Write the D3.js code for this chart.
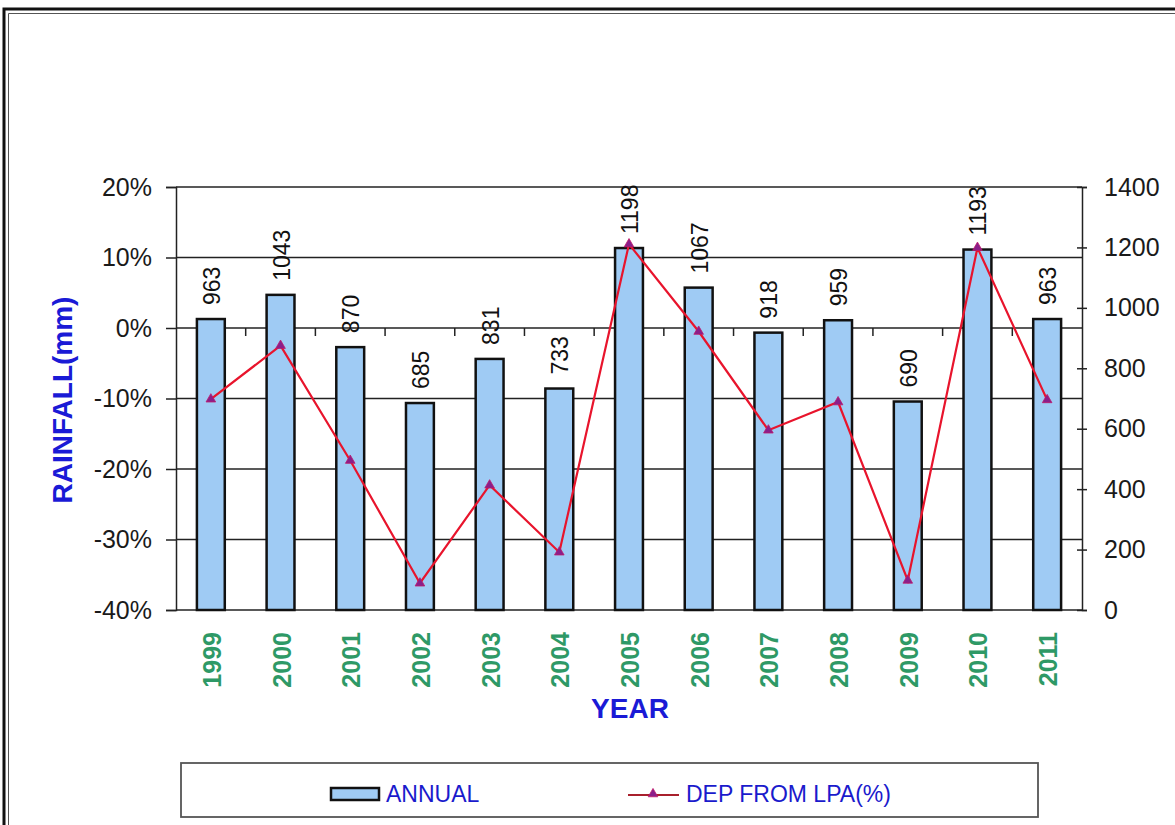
<!DOCTYPE html>
<html>
<head>
<meta charset="utf-8">
<script src="https://cdn.jsdelivr.net/npm/d3@7"></script>
<style>
  html, body { margin: 0; padding: 0; background: #fff; }
  svg { display: block; }
  text { font-family: "Liberation Sans", Arial, sans-serif; }
</style>
</head>
<body>
<svg id="chart" width="1175" height="825"></svg>
<script>
// ---- data ----
const years = ["1999","2000","2001","2002","2003","2004","2005","2006","2007","2008","2009","2010","2011"];
const annual = [963, 1043, 870, 685, 831, 733, 1198, 1067, 918, 959, 690, 1193, 963];
const depFromLPA = [-10.1, -2.5, -18.8, -36.2, -22.3, -31.8, 11.9, -0.5, -14.5, -10.5, -35.8, 11.4, -10.2];
const leftTicks = [-40, -30, -20, -10, 0, 10, 20];
const rightTicks = [0, 200, 400, 600, 800, 1000, 1200, 1400];
const seriesNames = ["ANNUAL", "DEP FROM LPA(%)"];
const axisTitles = { x: "YEAR", y: "RAINFALL(mm)" };

// ---- layout ----
const svg = d3.select("#chart");
const L = 176, R = 1082, T = 187, B = 610;

const x = d3.scaleBand().domain(years).range([L, R]).paddingInner(0.6).paddingOuter(0.3);
const xb = d3.scaleBand().domain(years).range([L, R]); // band boundaries for ticks
const yL = d3.scaleLinear().domain([-40, 20]).range([B, T]);
const yR = d3.scaleLinear().domain([0, 1400]).range([B, T]);

// outer frame (double line, top & left visible)
svg.append("path").attr("d", "M4,900 L4,9 L1300,9").attr("fill", "none").attr("stroke", "#111").attr("stroke-width", 3);
svg.append("path").attr("d", "M8.5,900 L8.5,13.5 L1300,13.5").attr("fill", "none").attr("stroke", "#555").attr("stroke-width", 1);

// gridlines (left axis)
svg.append("g").selectAll("line").data(leftTicks).join("line")
  .attr("x1", L).attr("x2", R)
  .attr("y1", d => yL(d)).attr("y2", d => yL(d))
  .attr("stroke", "#222").attr("stroke-width", 1.5);

// category axis at 0% with tick marks between categories
const xAxisG = svg.append("g");
xAxisG.selectAll("line").data(years.slice(1)).join("line")
  .attr("x1", d => xb(d)).attr("x2", d => xb(d))
  .attr("y1", yL(0)).attr("y2", yL(0) + 8)
  .attr("stroke", "#222").attr("stroke-width", 1.5);

// bars
svg.append("g").selectAll("rect").data(years).join("rect")
  .attr("x", d => x(d))
  .attr("width", x.bandwidth())
  .attr("y", (d, i) => yR(annual[i]))
  .attr("height", (d, i) => B - yR(annual[i]))
  .attr("fill", "#9fcbf4")
  .attr("stroke", "#111")
  .attr("stroke-width", 2.5);

// value labels
svg.append("g").selectAll("text").data(years).join("text")
  .attr("transform", (d, i) => `translate(${x(d) + x.bandwidth() / 2 + 1},${yR(annual[i]) - 14}) rotate(-90)`)
  .attr("text-anchor", "start")
  .attr("dominant-baseline", "central")
  .attr("font-size", 23)
  .attr("fill", "#111")
  .text((d, i) => annual[i]);

// left axis
const axL = svg.append("g").attr("transform", `translate(${L},0)`)
  .call(d3.axisLeft(yL).tickValues(leftTicks).tickFormat(d => d + "%").tickSize(10).tickPadding(14));
axL.select(".domain").attr("stroke", "#222").attr("stroke-width", 1.5);
axL.selectAll(".tick line").attr("stroke", "#222").attr("stroke-width", 1.5);
axL.selectAll(".tick text").attr("font-size", 25).attr("fill", "#1a1a1a")
  .attr("font-family", "'Liberation Sans', Arial, sans-serif");

// right axis
const axR = svg.append("g").attr("transform", `translate(${R},0)`)
  .call(d3.axisRight(yR).tickValues(rightTicks).tickFormat(d3.format("d")).tickSize(5).tickPadding(17));
axR.select(".domain").attr("stroke", "#222").attr("stroke-width", 1.5);
axR.selectAll(".tick line").attr("x1", -5).attr("stroke", "#222").attr("stroke-width", 1.5);
axR.selectAll(".tick text").attr("font-size", 25).attr("fill", "#1a1a1a")
  .attr("font-family", "'Liberation Sans', Arial, sans-serif");

// year labels
svg.append("g").selectAll("text").data(years).join("text")
  .attr("transform", d => `translate(${xb(d) + xb.bandwidth() / 2 + 1},${B + 22}) rotate(-90)`)
  .attr("text-anchor", "end")
  .attr("dominant-baseline", "central")
  .attr("font-size", 25)
  .attr("font-weight", "bold")
  .attr("fill", "#2e9966")
  .text(d => d);

// departure line
const line = d3.line().x((d, i) => xb(years[i]) + xb.bandwidth() / 2).y(d => yL(d));
svg.append("path").datum(depFromLPA)
  .attr("d", line).attr("fill", "none")
  .attr("stroke", "#e8142c").attr("stroke-width", 2.2);
const tri = d3.symbol().type(d3.symbolTriangle).size(40);
svg.append("g").selectAll("path").data(depFromLPA).join("path")
  .attr("d", tri)
  .attr("transform", (d, i) => `translate(${xb(years[i]) + xb.bandwidth() / 2},${yL(d)})`)
  .attr("fill", "#8a1f8a").attr("stroke", "#c0186a").attr("stroke-width", 0.8);

// axis titles
svg.append("text")
  .attr("x", 630).attr("y", 718)
  .attr("text-anchor", "middle")
  .attr("font-size", 28).attr("font-weight", "bold")
  .attr("fill", "#1a1ad6")
  .text(axisTitles.x);
svg.append("text")
  .attr("transform", "translate(72,400) rotate(-90)")
  .attr("text-anchor", "middle")
  .attr("font-size", 28).attr("font-weight", "bold")
  .attr("fill", "#1a1ad6")
  .text(axisTitles.y);

// legend
const lg = svg.append("g");
lg.append("rect").attr("x", 181).attr("y", 763).attr("width", 1038 - 181).attr("height", 54)
  .attr("fill", "#fff").attr("stroke", "#555").attr("stroke-width", 1.8);
lg.append("rect").attr("x", 331).attr("y", 788).attr("width", 48).attr("height", 12)
  .attr("fill", "#9fcbf4").attr("stroke", "#111").attr("stroke-width", 2.5);
lg.append("text").attr("x", 386).attr("y", 794).attr("dominant-baseline", "central")
  .attr("font-size", 23).attr("fill", "#1a1acc").text(seriesNames[0]);
lg.append("line").attr("x1", 628).attr("x2", 679).attr("y1", 795).attr("y2", 795)
  .attr("stroke", "#a8202c").attr("stroke-width", 2.2);
lg.append("path").attr("d", tri).attr("transform", "translate(653,794)")
  .attr("fill", "#8a1f8a").attr("stroke", "#c0186a").attr("stroke-width", 0.8);
lg.append("text").attr("x", 686).attr("y", 794).attr("dominant-baseline", "central")
  .attr("font-size", 23).attr("fill", "#1a1acc").text(seriesNames[1]);
</script>
</body>
</html>
